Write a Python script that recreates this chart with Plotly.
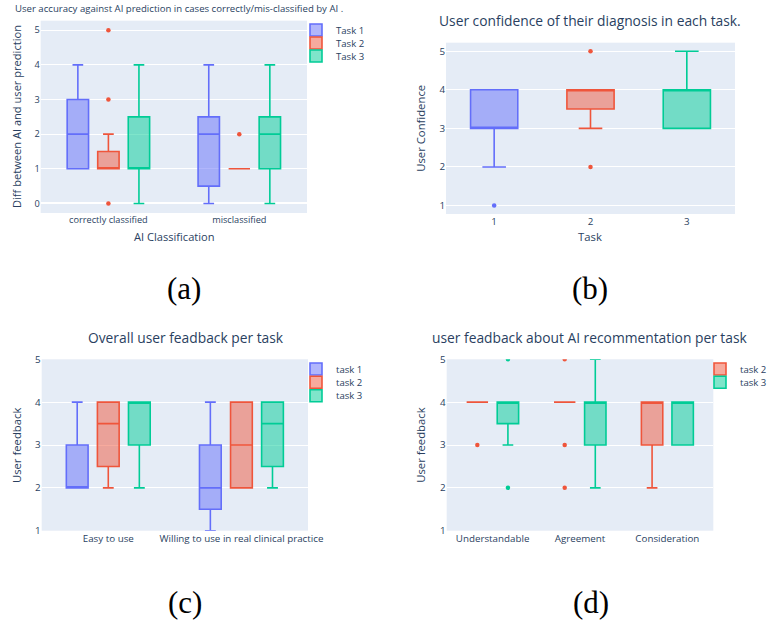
import plotly.graph_objects as go

W, H = 770, 624
BLUE, RED, GREEN = "#636efa", "#EF553B", "#00cc96"
FONT = "Open Sans, verdana, arial, sans-serif"
TXT = "#2a3f5f"

# ---------- data ----------
# (a) difference between AI and user prediction
a_categories = ["correctly classified", "misclassified"]
a_task1_correct = [1, 1, 1, 2, 2, 3, 3, 4]
a_task1_mis = [0, 0, 1, 2, 2, 2, 3, 4]
a_task2_correct = [0, 1, 1, 1, 1, 1, 1, 1, 1, 2, 3, 5]
a_task2_mis = [1, 1, 1, 1, 1, 1, 2]
a_task3_correct = [0, 1, 1, 1, 1, 2, 3, 4]
a_task3_mis = [0, 1, 1, 2, 2, 2, 3, 4]

# (b) user confidence per task
b_tasks = [1, 2, 3]
b_task1 = [1, 2, 3, 3, 3, 3, 4, 4, 4, 4]
b_task2 = [2, 3, 4, 4, 4, 4, 4, 5]
b_task3 = [3, 3, 3, 3, 4, 4, 4, 4, 5, 5]

# (c) overall user feedback
c_categories = ["Easy to use", "Willing to use in real clinical practice"]
c_task1_easy = [2, 2, 2, 2, 2, 2, 3, 3, 3, 4]
c_task1_willing = [1, 1, 2, 2, 2, 3, 3, 4]
c_task2_easy = [2, 2, 3, 3, 4, 4, 4, 4]
c_task2_willing = [2, 2, 2, 2, 3, 3, 4, 4, 4, 4]
c_task3_easy = [2, 3, 3, 3, 4, 4, 4, 4, 4, 4]
c_task3_willing = [2, 2, 3, 3, 4, 4, 4, 4]

# (d) feedback about AI recommendation
d_categories = ["Understandable", "Agreement", "Consideration"]
d_task2_understandable = [3, 4, 4, 4, 4, 4, 4, 4, 4, 4]
d_task2_agreement = [2, 3, 4, 4, 4, 4, 4, 4, 4, 5]
d_task2_consideration = [2, 3, 3, 3, 4, 4, 4, 4, 4, 4]
d_task3_understandable = [2, 3, 4, 4, 4, 4, 4, 5]
d_task3_agreement = [2, 3, 3, 3, 4, 4, 4, 4, 5, 5]
d_task3_consideration = [3, 3, 3, 3, 4, 4, 4, 4, 4, 4]


def fx(px):
    return px / W


def fy(py):
    return 1 - py / H


def flat(cats, groups):
    xs, ys = [], []
    for c, g in zip(cats, groups):
        xs += [c] * len(g)
        ys += list(g)
    return xs, ys


def box(x, y, name, color, xa, ya, og, legend=None, showlegend=True):
    return go.Box(
        x=x, y=y, name=name, xaxis=xa, yaxis=ya,
        offsetgroup=og, legend=legend, showlegend=showlegend,
        line=dict(color=color, width=1.6),
        marker=dict(color=color, size=4.5),
        boxpoints="outliers",
    )


fig = go.Figure()

# (a)
for name, color, groups, og, lg in [
    ("Task 1", BLUE, [a_task1_correct, a_task1_mis], "1", "legend"),
    ("Task 2", RED, [a_task2_correct, a_task2_mis], "2", "legend2"),
    ("Task 3", GREEN, [a_task3_correct, a_task3_mis], "3", "legend3"),
]:
    x, y = flat(a_categories, groups)
    fig.add_trace(box(x, y, name, color, "x", "y", "a" + og, legend=lg))

# (b)
for t, color, g in zip(b_tasks, [BLUE, RED, GREEN], [b_task1, b_task2, b_task3]):
    fig.add_trace(box([t] * len(g), g, str(t), color, "x2", "y2", "b", showlegend=False))

# (c)
for name, color, groups, og, lg in [
    ("task 1", BLUE, [c_task1_easy, c_task1_willing], "1", "legend4"),
    ("task 2", RED, [c_task2_easy, c_task2_willing], "2", "legend5"),
    ("task 3", GREEN, [c_task3_easy, c_task3_willing], "3", "legend6"),
]:
    x, y = flat(c_categories, groups)
    fig.add_trace(box(x, y, name, color, "x3", "y3", "c" + og, legend=lg))

# (d)
for name, color, groups, og, lg in [
    ("task 2", RED, [d_task2_understandable, d_task2_agreement, d_task2_consideration], "2", "legend7"),
    ("task 3", GREEN, [d_task3_understandable, d_task3_agreement, d_task3_consideration], "3", "legend8"),
]:
    x, y = flat(d_categories, groups)
    fig.add_trace(box(x, y, name, color, "x4", "y4", "d" + og, legend=lg))


def xax(dom, anchor, size, **kw):
    d = dict(domain=dom, anchor=anchor, showgrid=False, automargin=False,
             tickfont=dict(size=size, color=TXT), zeroline=False)
    d.update(kw)
    return d


def yax(dom, anchor, size, rng, **kw):
    d = dict(domain=dom, anchor=anchor, automargin=False, range=rng, dtick=1,
             tickfont=dict(size=size, color=TXT), gridcolor="white",
             zerolinecolor="white", zerolinewidth=2)
    d.update(kw)
    return d


def leg(x, ycenter):
    return dict(x=fx(x), y=fy(ycenter - 14.5), xanchor="left", yanchor="top",
                bgcolor="rgba(0,0,0,0)", font=dict(size=9.6, color=TXT))


fig.update_layout(
    width=W, height=H,
    margin=dict(l=0, r=0, t=0, b=0, autoexpand=False),
    paper_bgcolor="white", plot_bgcolor="#E5ECF6",
    font=dict(family=FONT, color=TXT),
    boxmode="group",
    xaxis=xax([fx(40.7), fx(307)], "y", 9.2, type="category"),
    yaxis=yax([fy(213), fy(20.7)], "x", 9.2, [-0.275, 5.275]),
    xaxis2=xax([fx(446), fx(735)], "y2", 9.8, range=[0.5, 3.5], tickvals=b_tasks),
    yaxis2=yax([fy(214), fy(42.7)], "x2", 9.8, [0.78, 5.22]),
    xaxis3=xax([fx(41.7), fx(308)], "y3", 9.8, type="category"),
    yaxis3=yax([fy(530.7), fy(359.3)], "x3", 9.8, [1, 5]),
    xaxis4=xax([fx(446.7), fx(713.3)], "y4", 9.8, type="category"),
    yaxis4=yax([fy(530.7), fy(359.3)], "x4", 9.8, [1, 5]),
    legend=leg(296, 30),
    legend2=leg(296, 43),
    legend3=leg(296, 56),
    legend4=leg(296, 369),
    legend5=leg(296, 382.3),
    legend6=leg(296, 395.7),
    legend7=leg(700, 369),
    legend8=leg(700, 382.3),
)

ann = []


def text(s, x, y, size, xanchor="center", angle=0, family=FONT, color=TXT):
    ann.append(dict(text=s, x=fx(x), y=fy(y), xref="paper", yref="paper",
                    xanchor=xanchor, yanchor="middle", showarrow=False,
                    textangle=angle, font=dict(size=size, family=family, color=color)))


# titles
text("User accuracy against AI prediction in cases correctly/mis-classified by AI .", 13, 8.5, 9.6, xanchor="left")
text("User confidence of their diagnosis in each task.", 590, 20.5, 13.8)
text("Overall user feadback per task", 185.7, 337, 13.8)
text("user feadback about AI recommentation per task", 590.3, 337.3, 13.8)
# axis titles
text("Diff between AI and user prediction", 16, 117, 11.1, angle=-90)
text("AI Classification", 174, 236.5, 11.1)
text("User Confidence", 420.5, 128.3, 11.3, angle=-90)
text("Task", 590.3, 236.7, 11.3)
text("User feedback", 15.8, 445.3, 11.3, angle=-90)
text("User feedback", 420.5, 445.3, 11.3, angle=-90)
# panel labels
SERIF = "Liberation Serif, DejaVu Serif, serif"
text("(a)", 184, 288, 31, family=SERIF, color="black")
text("(b)", 590, 288, 31, family=SERIF, color="black")
text("(c)", 185, 602, 31, family=SERIF, color="black")
text("(d)", 591, 602, 31, family=SERIF, color="black")

fig.update_layout(annotations=ann)
fig.write_html(
    "out.html",
    config={"displayModeBar": False},
    post_script="document.body.style.margin='0';document.body.style.overflow='hidden';",
)
